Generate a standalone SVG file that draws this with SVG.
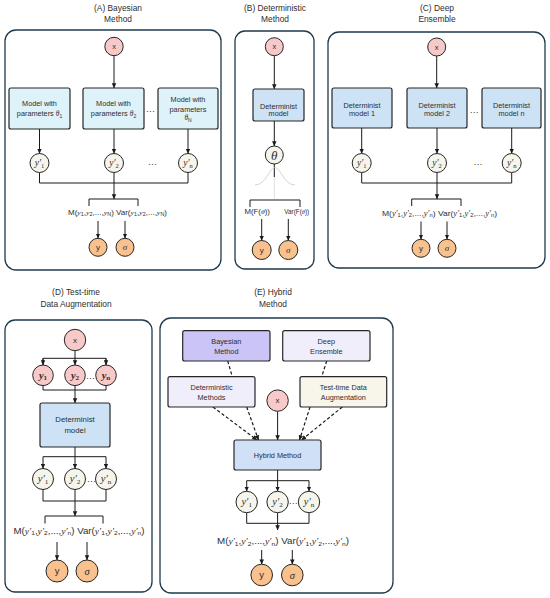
<svg xmlns="http://www.w3.org/2000/svg" width="550" height="598" viewBox="0 0 550 598">
<defs>
<marker id="ah" viewBox="0 0 10 10" refX="9.5" refY="5" markerWidth="5" markerHeight="5" orient="auto" markerUnits="userSpaceOnUse"><path d="M0,0.5 L10,5 L0,9.5 z" fill="#1a1a1a"/></marker>
<style>
.panel{fill:#fff;stroke:#1e3a4c;stroke-width:1.3}
.t{font-family:"Liberation Sans","Open Sans",Arial,sans-serif;fill:#2e2e2e;text-anchor:middle}
.ttl{font-size:8.4px}
.lb{font-size:7.3px}
.bx{stroke:#262626;stroke-width:1.2}
.c{stroke:#262626;stroke-width:1}
.pk{fill:#f8c9c9}.cr{fill:#f6f5eb}.or{fill:#f8c18d}
.la{fill:#def2f9}.db{fill:#cde2f5}.hb{fill:#d0e0f6}
.pu{fill:#cbc4f6}.lv{fill:#f1eefc}.tt{fill:#f8f5eb}
.ln{fill:none;stroke:#1a1a1a;stroke-width:1}
.ar{marker-end:url(#ah)}
.ds{fill:none;stroke:#1a1a1a;stroke-width:1.2;stroke-dasharray:3.2,2.2}
.m{font-family:"Liberation Serif","DejaVu Serif",serif;font-style:italic}
.cm{font-family:"Liberation Serif","DejaVu Serif",serif;font-style:italic;fill:#2e2e2e;text-anchor:middle}
.sb{font-size:0.68em;font-style:normal}
.dots{font-family:"Liberation Sans",sans-serif;font-size:9px;fill:#333;text-anchor:middle}
</style>
</defs>

<!-- Panels -->
<g id="panelA"><rect class="panel" x="5" y="30" width="216" height="240" rx="11"/>
<text class="t ttl" x="118" y="10.7">(A) Bayesian</text><text class="t ttl" x="118" y="21.7">Method</text></g>
<g id="panelB"><rect class="panel" x="235" y="31" width="79" height="238" rx="10"/>
<text class="t ttl" x="275" y="10.7">(B) Deterministic</text><text class="t ttl" x="275" y="21.7">Method</text></g>
<g id="panelC"><rect class="panel" x="328" y="32" width="217" height="236" rx="11"/>
<text class="t ttl" x="437" y="11">(C) Deep</text><text class="t ttl" x="437" y="22">Ensemble</text></g>
<g id="panelD"><rect class="panel" x="5" y="320" width="147" height="272" rx="10"/>
<text class="t ttl" x="76" y="294.5">(D) Test-time</text><text class="t ttl" x="76" y="307">Data Augmentation</text></g>
<g id="panelE"><rect class="panel" x="160" y="318" width="233" height="275" rx="11"/>
<text class="t ttl" x="273" y="294.5">(E) Hybrid</text><text class="t ttl" x="273" y="307">Method</text></g>

<!-- Connectors -->
<g id="connectors">
<!-- A -->
<line class="ln ar" x1="114" y1="55.7" x2="114" y2="88"/>
<line class="ln ar" x1="39.5" y1="129" x2="39.5" y2="153.5"/>
<line class="ln ar" x1="114" y1="129" x2="114" y2="153.5"/>
<line class="ln ar" x1="188" y1="129" x2="188" y2="153.5"/>
<polyline class="ln" points="39.5,172.5 39.5,183 188,183 188,172.5"/>
<line class="ln ar" x1="114" y1="172.5" x2="114" y2="199"/>
<path class="ln" d="M89,206 V199 H138 V206"/>
<line class="ln ar" x1="98" y1="221" x2="98" y2="238.3"/>
<line class="ln ar" x1="125" y1="221" x2="125" y2="238.3"/>
<!-- B -->
<line class="ln ar" x1="274.3" y1="55.7" x2="274.3" y2="89"/>
<line class="ln ar" x1="274.3" y1="121" x2="274.3" y2="146"/>
<line class="ln" x1="274.3" y1="164" x2="274.3" y2="177"/>
<path d="M255,185 C266,185 269.5,167.5 275,167.5 C280.5,167.5 284,185 295,185" fill="none" stroke="#c9c9c9" stroke-width="0.8"/>
<line x1="274.3" y1="177" x2="274.3" y2="199" stroke="#d0d0d0" stroke-width="0.7"/>
<path class="ln" d="M250,207 V200 H300 V207"/>
<line class="ln ar" x1="261.7" y1="219" x2="261.7" y2="240.5"/>
<line class="ln ar" x1="288.3" y1="219" x2="288.3" y2="240.5"/>
<!-- C -->
<line class="ln ar" x1="436.7" y1="56" x2="436.7" y2="88"/>
<line class="ln ar" x1="361.7" y1="128" x2="361.7" y2="153.5"/>
<line class="ln ar" x1="437" y1="128" x2="437" y2="153.5"/>
<line class="ln ar" x1="511.7" y1="128" x2="511.7" y2="153.5"/>
<polyline class="ln" points="361.7,172.5 361.7,183 511.7,183 511.7,172.5"/>
<line class="ln ar" x1="437" y1="172.5" x2="437" y2="199"/>
<path class="ln" d="M411.7,206 V199 H461 V206"/>
<line class="ln ar" x1="421" y1="221.5" x2="421" y2="239.3"/>
<line class="ln ar" x1="447" y1="221.5" x2="447" y2="239.3"/>
<!-- D -->
<line class="ln ar" x1="75" y1="350.5" x2="75" y2="365"/>
<polyline class="ln" points="43,365 43,358.3 106,358.3 106,365"/>
<line class="ln ar" x1="43" y1="358.3" x2="43" y2="365"/>
<line class="ln ar" x1="106" y1="358.3" x2="106" y2="365"/>
<polyline class="ln" points="43,385.5 43,390 106,390 106,385.5"/>
<line class="ln ar" x1="75" y1="385.5" x2="75" y2="403"/>
<line class="ln" x1="75" y1="447" x2="75" y2="456.7"/>
<line class="ln" x1="43" y1="456.7" x2="106" y2="456.7"/>
<line class="ln ar" x1="43" y1="456.7" x2="43" y2="468.5"/>
<line class="ln ar" x1="75" y1="456.7" x2="75" y2="468.5"/>
<line class="ln ar" x1="106" y1="456.7" x2="106" y2="468.5"/>
<polyline class="ln" points="43,489.5 43,501 106,501 106,489.5"/>
<line class="ln ar" x1="75" y1="489.5" x2="75" y2="516"/>
<path class="ln" d="M45,523.5 V516 H103 V523.5"/>
<line class="ln ar" x1="57" y1="542" x2="57" y2="560"/>
<line class="ln ar" x1="87" y1="542" x2="87" y2="560"/>
<!-- E -->
<line class="ds" x1="227.7" y1="361" x2="232.3" y2="376.7"/>
<line class="ds" x1="326.7" y1="361" x2="321.7" y2="376.7"/>
<line class="ds ar" x1="213" y1="407" x2="257" y2="440"/>
<line class="ds ar" x1="246.7" y1="407" x2="258.5" y2="440"/>
<line class="ds ar" x1="310" y1="407" x2="299.5" y2="440"/>
<line class="ds ar" x1="342.3" y1="407" x2="301.5" y2="440"/>
<line class="ln ar" x1="277.6" y1="411.3" x2="277.6" y2="440"/>
<line class="ln" x1="277.6" y1="470" x2="277.6" y2="480.7"/>
<line class="ln" x1="246.7" y1="480.7" x2="309" y2="480.7"/>
<line class="ln ar" x1="246.7" y1="480.7" x2="246.7" y2="491.3"/>
<line class="ln ar" x1="277.6" y1="480.7" x2="277.6" y2="491.3"/>
<line class="ln ar" x1="309" y1="480.7" x2="309" y2="491.3"/>
<polyline class="ln" points="246.7,512.7 246.7,523.3 309,523.3 309,512.7"/>
<line class="ln ar" x1="277.6" y1="512.7" x2="277.6" y2="530"/>
<line class="ln ar" x1="261.7" y1="550" x2="261.7" y2="564.2"/>
<line class="ln ar" x1="292.3" y1="550" x2="292.3" y2="564.2"/>
</g>

<!-- Panel A nodes -->
<g id="A-x"><circle class="c pk" cx="114" cy="46.5" r="9.2"/><text class="t" font-size="7.5" x="114" y="49">x</text></g>
<g id="A-model1"><rect class="bx la" x="9" y="88" width="61" height="41" rx="2"/><text class="t lb" x="39.5" y="106">Model with</text><text class="t lb" x="39.5" y="116">parameters <tspan class="m">θ</tspan><tspan class="sb" dy="1.5">1</tspan></text></g>
<g id="A-model2"><rect class="bx la" x="83" y="88" width="61" height="41" rx="2"/><text class="t lb" x="113.5" y="106">Model with</text><text class="t lb" x="113.5" y="116">parameters <tspan class="m">θ</tspan><tspan class="sb" dy="1.5">2</tspan></text></g>
<g id="A-model3"><rect class="bx la" x="158" y="88" width="60" height="41" rx="2"/><text class="t lb" x="188" y="102">Model with</text><text class="t lb" x="188" y="111.5">parameters</text><text class="t lb" x="188" y="120"><tspan class="m">θ</tspan><tspan class="sb" dy="1.5">N</tspan></text></g>
<text class="dots" x="150.4" y="114.2">···</text>
<g id="A-y1"><circle class="c cr" cx="39.5" cy="163" r="9.5"/><text class="cm" font-size="9.5" x="39.5" y="166">y′<tspan class="sb" dy="1.5">1</tspan></text></g>
<g id="A-y2"><circle class="c cr" cx="114" cy="163" r="9.5"/><text class="cm" font-size="9.5" x="114" y="166">y′<tspan class="sb" dy="1.5">2</tspan></text></g>
<g id="A-yn"><circle class="c cr" cx="188" cy="163" r="9.5"/><text class="cm" font-size="9.5" x="188" y="166">y′<tspan class="sb" dy="1.5">n</tspan></text></g>
<text class="dots" x="152.5" y="166.5">···</text>
<text id="A-formula" class="t" font-size="7" x="117.5" y="215" textLength="99" lengthAdjust="spacingAndGlyphs">M(<tspan class="m">y</tspan><tspan class="sb" dy="1.3">1</tspan><tspan dy="-1.3">,</tspan><tspan class="m">y</tspan><tspan class="sb" dy="1.3">2</tspan><tspan dy="-1.3">,...,</tspan><tspan class="m">y</tspan><tspan class="sb" dy="1.3">N</tspan><tspan dy="-1.3">) Var(</tspan><tspan class="m">y</tspan><tspan class="sb" dy="1.3">1</tspan><tspan dy="-1.3">,</tspan><tspan class="m">y</tspan><tspan class="sb" dy="1.3">2</tspan><tspan dy="-1.3">,...,</tspan><tspan class="m">y</tspan><tspan class="sb" dy="1.3">N</tspan><tspan dy="-1.3">)</tspan></text>
<g id="A-out-y"><circle class="c or" cx="98" cy="247.3" r="9"/><text class="t" font-size="8" x="98" y="250.2">y</text></g>
<g id="A-out-s"><circle class="c or" cx="125" cy="247.3" r="9"/><text class="cm" font-size="9" x="125" y="250.3">σ</text></g>

<!-- Panel B nodes -->
<g id="B-x"><circle class="c pk" cx="274.3" cy="46.7" r="9"/><text class="t" font-size="7.5" x="274.3" y="49.2">x</text></g>
<g id="B-model"><rect class="bx db" x="253" y="89" width="51" height="32" rx="2"/><text class="t lb" x="278.5" y="108.5">Determinist</text><text class="t lb" x="278.5" y="116.3">model</text></g>
<g id="B-theta"><circle class="c cr" cx="274.3" cy="155" r="9"/><text class="cm" font-size="13" x="274.3" y="159.5">θ</text></g>
<text class="t" font-size="6.5" x="257.2" y="214" textLength="25.5" lengthAdjust="spacingAndGlyphs">M(F(<tspan class="m">θ</tspan>))</text>
<text class="t" font-size="6.5" x="296.7" y="214" textLength="25" lengthAdjust="spacingAndGlyphs">Var(F(<tspan class="m">θ</tspan>))</text>
<g id="B-out-y"><circle class="c or" cx="261.7" cy="250" r="9.5"/><text class="t" font-size="8" x="261.7" y="253">y</text></g>
<g id="B-out-s"><circle class="c or" cx="288.3" cy="250" r="9.5"/><text class="cm" font-size="9" x="288.3" y="253">σ</text></g>

<!-- Panel C nodes -->
<g id="C-x"><circle class="c pk" cx="436.7" cy="47" r="9"/><text class="t" font-size="7.5" x="436.7" y="49.5">x</text></g>
<g id="C-model1"><rect class="bx db" x="332" y="88" width="60" height="40" rx="2"/><text class="t lb" x="362" y="107.5">Determinist</text><text class="t lb" x="362" y="116">model 1</text></g>
<g id="C-model2"><rect class="bx db" x="407" y="88" width="60" height="40" rx="2"/><text class="t lb" x="437" y="107.5">Determinist</text><text class="t lb" x="437" y="116">model 2</text></g>
<g id="C-model3"><rect class="bx db" x="482" y="88" width="59" height="40" rx="2"/><text class="t lb" x="511.5" y="107.5">Determinist</text><text class="t lb" x="511.5" y="116">model n</text></g>
<text class="dots" x="474.3" y="115">···</text>
<g id="C-y1"><circle class="c cr" cx="361.7" cy="163" r="9.5"/><text class="cm" font-size="9.5" x="361.7" y="166">y′<tspan class="sb" dy="1.5">1</tspan></text></g>
<g id="C-y2"><circle class="c cr" cx="437" cy="163" r="9.5"/><text class="cm" font-size="9.5" x="437" y="166">y′<tspan class="sb" dy="1.5">2</tspan></text></g>
<g id="C-yn"><circle class="c cr" cx="511.7" cy="163" r="9.5"/><text class="cm" font-size="9.5" x="511.7" y="166">y′<tspan class="sb" dy="1.5">n</tspan></text></g>
<text class="dots" x="478" y="166.5">···</text>
<text id="C-formula" class="t" font-size="7.3" x="439.5" y="215.5" textLength="115" lengthAdjust="spacingAndGlyphs">M(<tspan class="m">y′</tspan><tspan class="sb" dy="1.3">1</tspan><tspan dy="-1.3">,</tspan><tspan class="m">y′</tspan><tspan class="sb" dy="1.3">2</tspan><tspan dy="-1.3">,...,</tspan><tspan class="m">y′</tspan><tspan class="sb" dy="1.3">n</tspan><tspan dy="-1.3">) Var(</tspan><tspan class="m">y′</tspan><tspan class="sb" dy="1.3">1</tspan><tspan dy="-1.3">,</tspan><tspan class="m">y′</tspan><tspan class="sb" dy="1.3">2</tspan><tspan dy="-1.3">,...,</tspan><tspan class="m">y′</tspan><tspan class="sb" dy="1.3">n</tspan><tspan dy="-1.3">)</tspan></text>
<g id="C-out-y"><circle class="c or" cx="421" cy="248.3" r="9"/><text class="t" font-size="8" x="421" y="251.2">y</text></g>
<g id="C-out-s"><circle class="c or" cx="447" cy="248.3" r="9"/><text class="cm" font-size="9" x="447" y="251.3">σ</text></g>

<!-- Panel D nodes -->
<g id="D-x"><circle class="c pk" cx="75" cy="340" r="10.7"/><text class="t" font-size="8" x="75" y="342.8">x</text></g>
<g id="D-y1"><circle class="c pk" cx="43" cy="375.3" r="10.3"/><text class="cm" font-size="10.5" font-weight="bold" x="43" y="378.5">y<tspan class="sb" dy="1.8">1</tspan></text></g>
<g id="D-y2"><circle class="c pk" cx="75" cy="375.3" r="10.3"/><text class="cm" font-size="10.5" font-weight="bold" x="75" y="378.5">y<tspan class="sb" dy="1.8">2</tspan></text></g>
<g id="D-yn"><circle class="c pk" cx="106" cy="375.3" r="10.3"/><text class="cm" font-size="10.5" font-weight="bold" x="106" y="378.5">y<tspan class="sb" dy="1.8">n</tspan></text></g>
<text class="dots" x="90.5" y="381">···</text>
<g id="D-model"><rect class="bx db" x="40" y="403" width="70" height="44" rx="2"/><text class="t" font-size="7.8" x="75" y="422">Determinist</text><text class="t" font-size="7.8" x="75" y="432.5">model</text></g>
<g id="D-y1p"><circle class="c cr" cx="43" cy="479" r="10.5"/><text class="cm" font-size="10.5" x="43" y="482.3">y′<tspan class="sb" dy="1.8">1</tspan></text></g>
<g id="D-y2p"><circle class="c cr" cx="75" cy="479" r="10.5"/><text class="cm" font-size="10.5" x="75" y="482.3">y′<tspan class="sb" dy="1.8">2</tspan></text></g>
<g id="D-ynp"><circle class="c cr" cx="106" cy="479" r="10.5"/><text class="cm" font-size="10.5" x="106" y="482.3">y′<tspan class="sb" dy="1.8">n</tspan></text></g>
<text class="dots" x="91.5" y="484">···</text>
<text id="D-formula" class="t" font-size="8.6" x="79" y="533.5" textLength="131" lengthAdjust="spacingAndGlyphs">M(<tspan class="m">y′</tspan><tspan class="sb" dy="1.5">1</tspan><tspan dy="-1.5">,</tspan><tspan class="m">y′</tspan><tspan class="sb" dy="1.5">2</tspan><tspan dy="-1.5">,...,</tspan><tspan class="m">y′</tspan><tspan class="sb" dy="1.5">n</tspan><tspan dy="-1.5">) Var(</tspan><tspan class="m">y′</tspan><tspan class="sb" dy="1.5">1</tspan><tspan dy="-1.5">,</tspan><tspan class="m">y′</tspan><tspan class="sb" dy="1.5">2</tspan><tspan dy="-1.5">,...,</tspan><tspan class="m">y′</tspan><tspan class="sb" dy="1.5">n</tspan><tspan dy="-1.5">)</tspan></text>
<g id="D-out-y"><circle class="c or" cx="57" cy="571" r="11"/><text class="t" font-size="9.5" x="57" y="574.3">y</text></g>
<g id="D-out-s"><circle class="c or" cx="87" cy="571" r="11"/><text class="cm" font-size="10.5" x="87" y="574.5">σ</text></g>

<!-- Panel E nodes -->
<g id="E-bayes"><rect class="bx pu" x="182.7" y="330.7" width="87.3" height="30.3" rx="2"/><text class="t lb" x="226.3" y="343.5">Bayesian</text><text class="t lb" x="226.3" y="353.8">Method</text></g>
<g id="E-deep"><rect class="bx lv" x="282.7" y="330.7" width="87.3" height="30.3" rx="2"/><text class="t lb" x="326.3" y="343.5">Deep</text><text class="t lb" x="326.3" y="353.8">Ensemble</text></g>
<g id="E-det"><rect class="bx lv" x="168" y="376.7" width="87" height="30.3" rx="2"/><text class="t lb" x="211.5" y="389.8">Deterministic</text><text class="t lb" x="211.5" y="400">Methods</text></g>
<g id="E-tta"><rect class="bx tt" x="300" y="376.7" width="86.7" height="30.3" rx="2"/><text class="t lb" x="343.3" y="389.8">Test-time Data</text><text class="t lb" x="343.3" y="400">Augmentation</text></g>
<g id="E-x"><circle class="c pk" cx="277.6" cy="400.6" r="10.7"/><text class="t" font-size="8" x="277.6" y="403.4">x</text></g>
<g id="E-hybrid"><rect class="bx hb" x="234" y="440" width="87" height="30" rx="2"/><text class="t lb" x="277.5" y="457.5">Hybrid Method</text></g>
<g id="E-y1p"><circle class="c cr" cx="246.7" cy="502" r="10.7"/><text class="cm" font-size="10.5" x="246.7" y="505.3">y′<tspan class="sb" dy="1.8">1</tspan></text></g>
<g id="E-y2p"><circle class="c cr" cx="277.6" cy="502" r="10.7"/><text class="cm" font-size="10.5" x="277.6" y="505.3">y′<tspan class="sb" dy="1.8">2</tspan></text></g>
<g id="E-ynp"><circle class="c cr" cx="309" cy="502" r="10.7"/><text class="cm" font-size="10.5" x="309" y="505.3">y′<tspan class="sb" dy="1.8">n</tspan></text></g>
<text class="dots" x="293.3" y="506" font-size="7">···</text>
<text id="E-formula" class="t" font-size="8.6" x="283" y="544" textLength="132" lengthAdjust="spacingAndGlyphs">M(<tspan class="m">y′</tspan><tspan class="sb" dy="1.5">1</tspan><tspan dy="-1.5">,</tspan><tspan class="m">y′</tspan><tspan class="sb" dy="1.5">2</tspan><tspan dy="-1.5">,...,</tspan><tspan class="m">y′</tspan><tspan class="sb" dy="1.5">n</tspan><tspan dy="-1.5">) Var(</tspan><tspan class="m">y′</tspan><tspan class="sb" dy="1.5">1</tspan><tspan dy="-1.5">,</tspan><tspan class="m">y′</tspan><tspan class="sb" dy="1.5">2</tspan><tspan dy="-1.5">,...,</tspan><tspan class="m">y′</tspan><tspan class="sb" dy="1.5">n</tspan><tspan dy="-1.5">)</tspan></text>
<g id="E-out-y"><circle class="c or" cx="261.7" cy="575" r="10.8"/><text class="t" font-size="9.5" x="261.7" y="578.3">y</text></g>
<g id="E-out-s"><circle class="c or" cx="292.3" cy="575" r="10.8"/><text class="cm" font-size="10.5" x="292.3" y="578.5">σ</text></g>
</svg>
